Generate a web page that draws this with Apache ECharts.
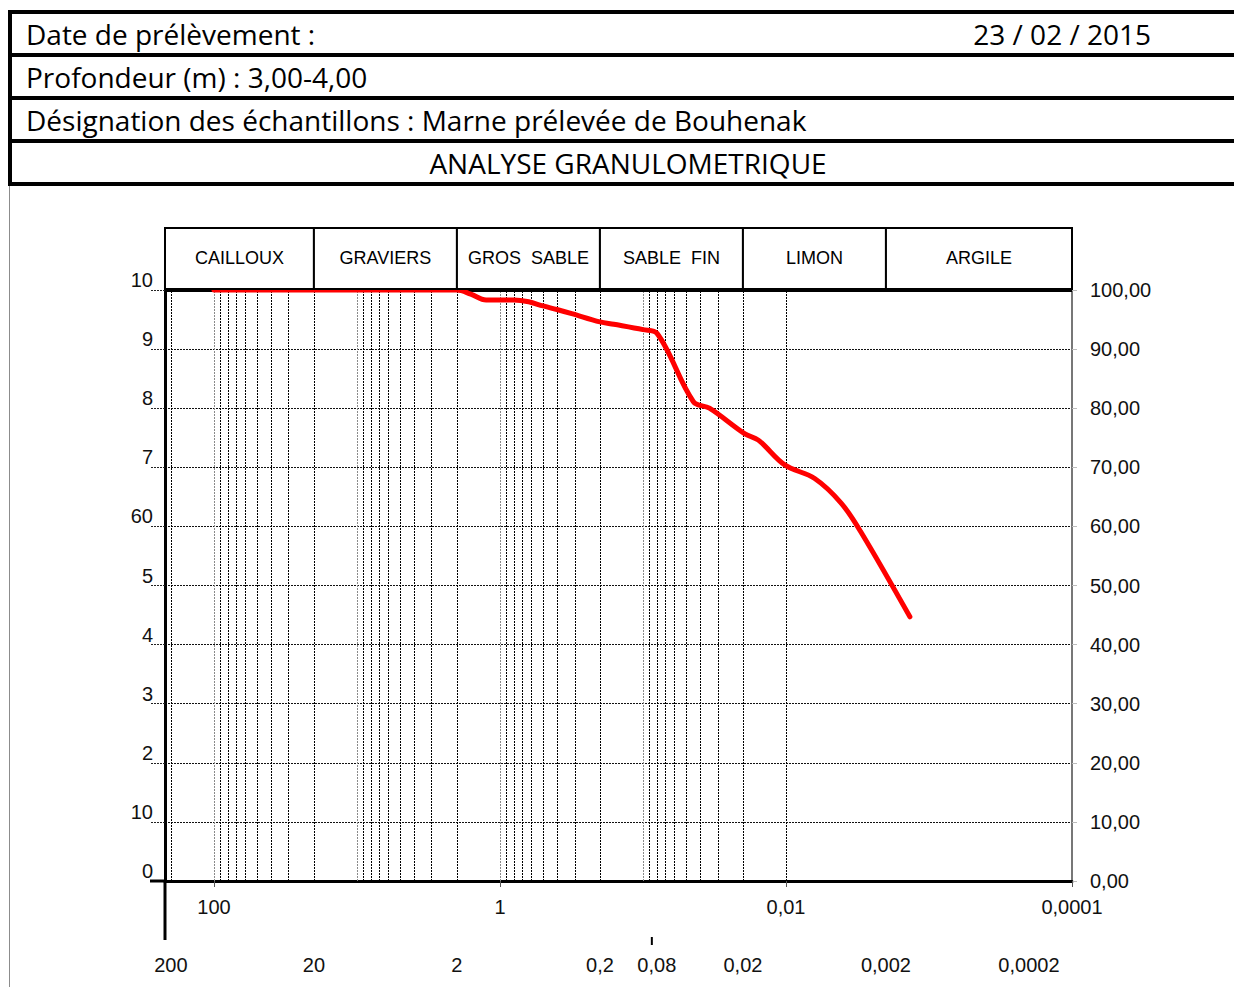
<!DOCTYPE html>
<html>
<head>
<meta charset="utf-8">
<script src="https://cdn.jsdelivr.net/npm/echarts@6/dist/echarts.min.js"></script>
<style>
  html, body { margin: 0; padding: 0; background: #ffffff; }
  #chart { width: 1234px; height: 987px; }
</style>
</head>
<body>
<div id="chart"></div>
<script>
// Grain size distribution: diameter (mm) vs cumulative passing (%)
const diameters = [100, 50, 20, 10, 5, 2, 1.6, 1.25, 1, 0.8, 0.63, 0.5, 0.4, 0.315, 0.2, 0.16, 0.1, 0.08,
                   0.0444, 0.0343, 0.0195, 0.0156, 0.0102, 0.0063, 0.0041, 0.00295, 0.00136];
const passing   = [100, 100, 100, 100, 100, 100, 99.3, 98.3, 98.3, 98.3, 98.0, 97.3, 96.7, 96.0, 94.6, 94.2, 93.3, 92.7,
                   81.1, 80.0, 75.7, 74.6, 70.4, 68.1, 63.9, 58.8, 44.7];

// Axis extent (mm) and labels
const xMax = 220;
const xMin = 0.0001;
const xTickValues = [100, 1, 0.01, 0.0001];
const xTickLabels = ['100', '1', '0,01', '0,0001'];
const leftTickLabels = ['0', '10', '2', '3', '4', '5', '60', '7', '8', '9', '10'];
const rightTickLabels = ['0,00', '10,00', '20,00', '30,00', '40,00', '50,00', '60,00', '70,00', '80,00', '90,00', '100,00'];

// Vertical grid: 1..9 x each decade
const gridDecades = [100, 10, 1, 0.1, 0.01, 0.001, 0.0001];
const gridMultipliers = [1, 2, 3, 4, 5, 6, 7, 8, 9];

// Soil classes and their limits (mm)
const classNames = ['CAILLOUX', 'GRAVIERS', 'GROS  SABLE', 'SABLE  FIN', 'LIMON', 'ARGILE'];
const classEdges = [xMax, 20, 2, 0.2, 0.02, 0.002, 0.0001];

// Class limit labels under the axis
const limitValues = [200, 20, 2, 0.2, 0.08, 0.02, 0.002, 0.0002];
const limitLabels = ['200', '20', '2', '0,2', '0,08', '0,02', '0,002', '0,0002'];
const markedLimits = [0.08];

// Sample sheet
const sheetDate = '23 / 02 / 2015';
const sheetRows = ['Date de prélèvement :', 'Profondeur (m) : 3,00-4,00',
                   'Désignation des échantillons : Marne prélevée de Bouhenak'];
const sheetTitle = 'ANALYSE GRANULOMETRIQUE';

const AXIS_FONT = '"Liberation Sans", Arial, sans-serif';
const SHEET_FONT = '"Open Sans", "Noto Sans", sans-serif';

const curve = diameters.map((d, i) => [d, passing[i]]);

const vGrid = [];
gridDecades.forEach(dec => {
  gridMultipliers.forEach(m => {
    const v = dec * m;
    if (v < xMax && v > xMin * 1.01) {
      vGrid.push({
        xAxis: v,
        lineStyle: m === 1
          ? { color: '#8a8a8a', type: [2, 1], width: 1 }
          : { color: '#000', type: [2, 1], width: 1 }
      });
    }
  });
});

const classData = classNames.map((n, i) => [classEdges[i], classEdges[i + 1], 100]);
const limitData = limitValues.map(v => [v, 0]);

function xLabel(val) {
  for (let i = 0; i < xTickValues.length; i++) {
    if (Math.abs(Math.log10(val) - Math.log10(xTickValues[i])) < 1e-6) return xTickLabels[i];
  }
  return '';
}

// Sheet header drawn as graphic elements
const sheetLineYs = [12, 55, 98, 141, 184];
const graphics = [];
sheetLineYs.forEach(y => {
  graphics.push({ type: 'line', shape: { x1: 8, y1: y, x2: 1234, y2: y },
                  style: { stroke: '#000', lineWidth: 4 }, silent: true });
});
graphics.push({ type: 'line', shape: { x1: 10, y1: 10, x2: 10, y2: 186 },
                style: { stroke: '#000', lineWidth: 4 }, silent: true });
graphics.push({ type: 'line', shape: { x1: 9.5, y1: 186, x2: 9.5, y2: 987 },
                style: { stroke: '#8c8c8c', lineWidth: 1 }, silent: true });
sheetRows.forEach((t, i) => {
  graphics.push({ type: 'text', x: 26, y: (sheetLineYs[i] + sheetLineYs[i + 1]) / 2,
                  style: { text: t, font: '28px ' + SHEET_FONT, fill: '#000', textVerticalAlign: 'middle' } });
});
graphics.push({ type: 'text', x: 1151, y: (sheetLineYs[0] + sheetLineYs[1]) / 2,
                style: { text: sheetDate, font: '28px ' + SHEET_FONT, fill: '#000',
                         textAlign: 'right', textVerticalAlign: 'middle' } });
graphics.push({ type: 'text', x: 628, y: (sheetLineYs[3] + sheetLineYs[4]) / 2,
                style: { text: sheetTitle, font: '28px ' + SHEET_FONT, fill: '#000',
                         textAlign: 'center', textVerticalAlign: 'middle' } });

const chart = echarts.init(document.getElementById('chart'), null, { renderer: 'svg' });

chart.setOption({
  animation: false,
  backgroundColor: '#ffffff',
  graphic: graphics,
  grid: { left: 165, right: 162, top: 290, bottom: 106, containLabel: false },
  xAxis: {
    type: 'log',
    logBase: 100,
    min: xMin,
    max: xMax,
    inverse: true,
    axisLine: { show: true, onZero: false, lineStyle: { color: '#000', width: 3 } },
    axisTick: { show: true, length: 6, lineStyle: { color: '#555', width: 1 } },
    axisLabel: { margin: 16, fontSize: 20, fontFamily: AXIS_FONT, color: '#111',
                 formatter: xLabel, showMaxLabel: false },
    splitLine: { show: false }
  },
  yAxis: [
    {
      type: 'value', position: 'left', min: 0, max: 100, interval: 10,
      axisLine: { show: true, lineStyle: { color: '#000', width: 3 } },
      axisTick: { show: true, length: 15, lineStyle: { color: '#222', type: [2, 1], width: 1 } },
      axisLabel: { margin: 12, fontSize: 20, fontFamily: AXIS_FONT, color: '#111',
                   verticalAlign: 'bottom', lineHeight: 20,
                   formatter: v => leftTickLabels[Math.round(v / 10)] },
      splitLine: { show: true, lineStyle: { color: '#111', type: [2, 1], width: 1 } }
    },
    {
      type: 'value', position: 'right', min: 0, max: 100, interval: 10,
      axisLine: { show: true, lineStyle: { color: '#777', width: 2 } },
      axisTick: { show: true, length: 5, lineStyle: { color: '#bbb', width: 1 } },
      axisLabel: { margin: 18, fontSize: 20, fontFamily: AXIS_FONT, color: '#111',
                   formatter: v => rightTickLabels[Math.round(v / 10)] },
      splitLine: { show: false }
    }
  ],
  series: [
    {
      // vertical and top frame lines
      type: 'line',
      data: [],
      silent: true,
      markLine: {
        silent: true,
        symbol: 'none',
        label: { show: false },
        data: vGrid.concat([{ yAxis: 100, lineStyle: { color: '#000', type: 'solid', width: 3 } }])
      }
    },
    {
      name: 'Passant',
      type: 'line',
      data: curve,
      smooth: 0.35,
      showSymbol: false,
      lineStyle: { color: '#ff0000', width: 5, cap: 'round', join: 'round' },
      z: 5
    },
    {
      // class boxes above the plot
      type: 'custom',
      data: classData,
      encode: { x: [0, 1], y: 2 },
      clip: false,
      silent: true,
      renderItem: (params, api) => {
        const p1 = api.coord([api.value(0), api.value(2)]);
        const p2 = api.coord([api.value(1), api.value(2)]);
        const h = 61;
        return {
          type: 'group',
          children: [
            { type: 'rect', shape: { x: p1[0], y: p1[1] - h - 1, width: p2[0] - p1[0], height: h },
              style: { fill: '#fff', stroke: '#000', lineWidth: 2 } },
            { type: 'text', x: (p1[0] + p2[0]) / 2, y: p1[1] - h / 2 - 2,
              style: { text: classNames[params.dataIndex], font: '18px ' + AXIS_FONT, fill: '#000',
                       textAlign: 'center', textVerticalAlign: 'middle' } }
          ]
        };
      },
      z: 6
    },
    {
      // class limit labels under the axis
      type: 'custom',
      data: limitData,
      encode: { x: 0, y: 1 },
      clip: false,
      silent: true,
      renderItem: (params, api) => {
        const v = api.value(0);
        const p = api.coord([v, api.value(1)]);
        const children = [
          { type: 'text', x: p[0], y: p[1] + 84,
            style: { text: limitLabels[params.dataIndex], font: '20px ' + AXIS_FONT, fill: '#111',
                     textAlign: 'center', textVerticalAlign: 'middle' } }
        ];
        if (markedLimits.indexOf(v) >= 0) {
          children.push({ type: 'line', shape: { x1: p[0] - 5, y1: p[1] + 56, x2: p[0] - 5, y2: p[1] + 64 },
                          style: { stroke: '#000', lineWidth: 2 } });
        }
        return { type: 'group', children };
      }
    },
    {
      // extension of the vertical axis below the plot
      type: 'custom',
      data: [[xMax, 0]],
      encode: { x: 0, y: 1 },
      clip: false,
      silent: true,
      renderItem: (params, api) => {
        const p = api.coord([api.value(0), api.value(1)]);
        return {
          type: 'group',
          children: [
            { type: 'line', shape: { x1: p[0], y1: p[1], x2: p[0], y2: p[1] + 59 },
              style: { stroke: '#000', lineWidth: 3 } },
            { type: 'line', shape: { x1: p[0] - 15, y1: p[1], x2: p[0], y2: p[1] },
              style: { stroke: '#000', lineWidth: 3 } }
          ]
        };
      }
    }
  ]
});
</script>
</body>
</html>
